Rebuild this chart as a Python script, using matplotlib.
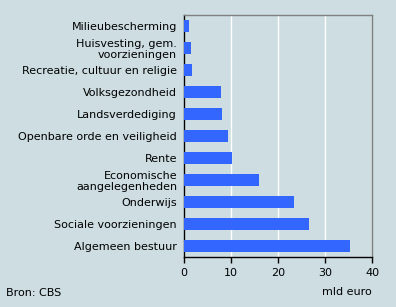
import matplotlib
matplotlib.use('Agg')
import matplotlib.pyplot as plt

# Uitgaven overheid naar functie (mld euro)
categories = ['Milieubescherming', 'Huisvesting, gem.\nvoorzieningen',
              'Recreatie, cultuur en religie', 'Volksgezondheid',
              'Landsverdediging', 'Openbare orde en veiligheid', 'Rente',
              'Economische\naangelegenheden', 'Onderwijs',
              'Sociale voorzieningen', 'Algemeen bestuur']
values = [1.0, 1.4, 1.6, 7.8, 8.0, 9.3, 10.1, 15.9, 23.3, 26.5, 35.2]
xticks = [0, 10, 20, 30, 40]

bg = '#cddde2'
plt.rcParams['font.family'] = 'DejaVu Sans'
plt.rcParams['font.size'] = 8

fig = plt.figure(figsize=(3.96, 3.07), dpi=100, facecolor=bg)
ax = fig.add_axes([0.4646, 0.163, 0.4755, 0.788])
ax.set_facecolor(bg)

pos = list(range(len(categories)))
ax.barh(pos, values, height=0.55, color='#3366ff', zorder=3)
ax.set_ylim(len(categories) - 0.5, -0.5)
ax.set_xlim(0, 40)

ax.set_xticks(xticks)
ax.xaxis.grid(True, color='white', linewidth=1, zorder=0)
ax.set_yticks(pos)
ax.set_yticklabels(categories, linespacing=1.15)
ax.tick_params(axis='y', length=0, pad=5)
ax.tick_params(axis='x', length=4, width=1, color='black', pad=4)

for s in ['top', 'right']:
    ax.spines[s].set_color('#808080')
for s in ['left', 'bottom']:
    ax.spines[s].set_color('black')
for s in ax.spines.values():
    s.set_linewidth(1)

fig.text(0.94, 0.048, 'mld euro', ha='right', va='center', fontsize=8)
fig.text(0.015, 0.045, 'Bron: CBS', ha='left', va='center', fontsize=8)

fig.savefig('out.png', dpi=100, facecolor=bg)
